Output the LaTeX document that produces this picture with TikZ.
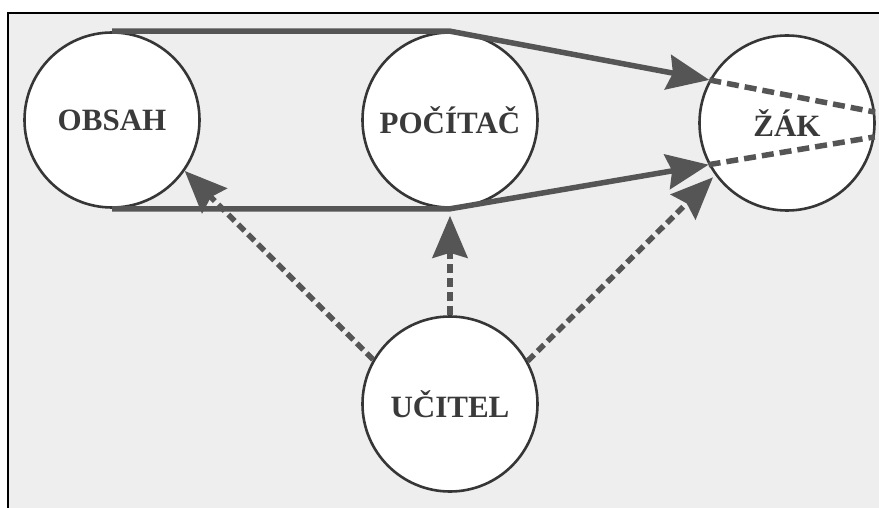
\documentclass[tikz,border=0pt]{standalone}
\usepackage{fontspec}
\setmainfont{Liberation Serif}
\usetikzlibrary{arrows.meta}
\definecolor{bgpaper}{HTML}{EEEEEE}
\definecolor{linegray}{HTML}{555555}
\definecolor{ringgray}{HTML}{363636}
\definecolor{textgray}{HTML}{3A3A3A}
\tikzset{
  x=1pt, y=-1pt,
  bubble/.style={circle, draw=ringgray, line width=2.6pt, fill=white,
    minimum size=175pt, inner sep=0pt, text=textgray,
    font=\fontsize{31}{31}\selectfont\bfseries},
  bigtip/.style={-{Stealth[length=42pt,width=35pt,inset=5pt]}},
  solidlink/.style={draw=linegray, line width=5.5pt, line join=miter},
  dashlink/.style={draw=linegray, line width=5.5pt, dash pattern=on 9pt off 5pt},
  innerdash/.style={draw=linegray, line width=5.5pt, dash pattern=on 12pt off 6pt},
}
\begin{document}
\begin{tikzpicture}
\useasboundingbox (0,0) rectangle (879,508);
\fill[bgpaper] (8,13) rectangle (879,508);
\draw[black, line width=2.6pt] (8,508) -- (8,13) -- (879,13);

\node[bubble] (obsah) at (112,120) {OBSAH};
\node[bubble] (pocitac) at (450,120) {POČÍTAČ};
\node[bubble] (zak) at (787,123) {ŽÁK};
\node[bubble] (ucitel) at (450,404) {UČITEL};

% solid links from OBSAH / POČÍTAČ to ŽÁK
\draw[solidlink, bigtip] (obsah.north) -- (pocitac.north) -- (zak.151);
\draw[solidlink, bigtip] (obsah.south) -- (pocitac.south) -- (zak.208);

% dashed continuation inside ŽÁK
\draw[innerdash] (zak.151) -- (zak.7);
\draw[innerdash] (zak.208) -- (zak.-9);

% dashed arrows from UČITEL
\draw[dashlink, bigtip] (ucitel.150) -- (obsah.-35);
\draw[dashlink, bigtip, shorten >=7pt] (ucitel.north) -- (pocitac.south);
\draw[dashlink, bigtip, shorten >=3pt] (ucitel.29) -- (zak.216);
\end{tikzpicture}
\end{document}
